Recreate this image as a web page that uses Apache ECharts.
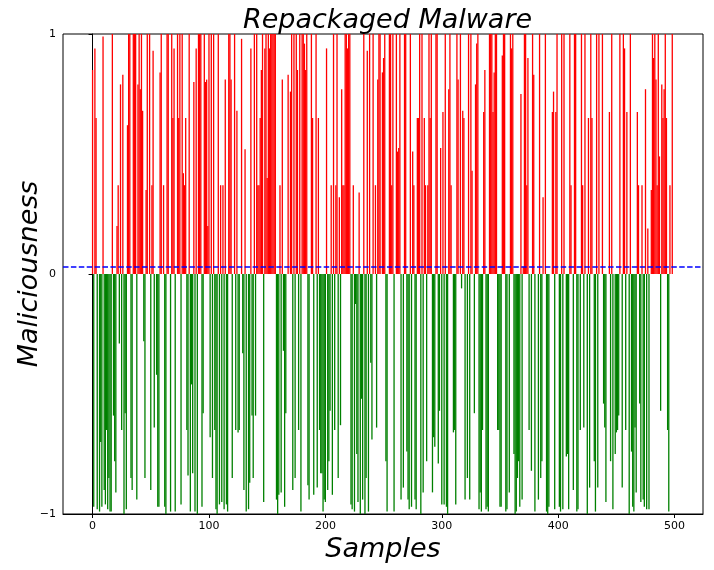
<!DOCTYPE html>
<html>
<head>
<meta charset="utf-8">
<title>Repackaged Malware</title>
<script src="https://cdn.jsdelivr.net/npm/echarts@6/dist/echarts.min.js"></script>
<style>
  html, body { margin: 0; padding: 0; background: #fff; }
  #chart { width: 714px; height: 570px; }
</style>
</head>
<body>
<div id="chart"></div>
<script>
// maliciousness score per sample (0 = no visible bar)
const samples0to99 = [
  .85, -.97, .94, .65, -.98, 0, -.99, -.70, -.97, .99,
  -.90, -.96, -.65, -.98, -.85, -.99, -.99, 1, -.59, -.78,
  -.91, .2, .37, -.29, .79, -.65, .83, -1, -.58, -.98,
  .62, 1, 1, -.85, -.90, 1, 1, 1, -.94, .79,
  1, .77, 1, .68, -.28, -.85, .35, 1, 0, 1,
  -.90, .37, .93, -.64, 0, -.42, -.97, -.97, .84, 1,
  0, .37, -.97, -1, 1, 1, 0, -.99, 1, .65,
  .94, -.99, 0, 1, .65, 1, -.96, 1, .42, .37,
  .65, -.65, -.84, 1, -.99, -.46, -.83, .80, -.99, .94,
  -1, 1, 1, 1, -.97, -.58, 1, .80, .81, .2
];
const samples100to199 = [
  1, -.68, 1, -.85, 1, -.65, -.98, -1, 1, -.96,
  .37, -.95, .37, -.98, .81, -.96, -.99, 1, 1, .81,
  -.85, 0, 1, -.65, .68, -.66, -.65, 0, .98, -.33,
  -.90, .52, -.99, 0, -.98, -.87, .94, -.59, -.85, 1,
  -.59, 1, .37, .37, .65, .85, 1, -.95, .94, 1,
  .40, 1, .94, 1, 1, 1, 1, 1, -.94, -1,
  -.92, .37, -.91, .81, -.32, -.97, -.58, 0, .83, 0,
  .76, 1, -.90, 1, -.85, 1, .85, -.65, 1, -.99,
  1, 1, .96, .85, 1, -.88, -.94, 0, 1, .65,
  -.92, 0, 1, -.89, .65, -.65, -.83, -.83, -.99, -.94
];
const samples200to299 = [
  -.95, .94, -.90, -.78, -.57, .37, -.92, 1, -.65, .37,
  1, -.85, .32, -.63, .77, .37, .37, 1, 1, .94,
  1, 1, -.96, -.98, .37, -.99, -.125, -.75, -.95, .34,
  -1, -.52, -.94, 1, -1, -.85, .93, -.99, 1, -.37,
  -.69, 1, 0, .37, -.64, .81, 1, 1, 0, .84,
  .90, 1, -.78, -.99, 0, 1, 1, .37, 1, -.99,
  0, 1, .51, .525, 1, -.94, 0, -.89, 1, 1,
  -.74, -.94, -.98, 1, -.97, .51, .37, -.94, -.98, .65,
  .65, 1, -1, 1, -.91, .65, .37, -.78, .37, 1,
  .65, 1, -.91, -.68, -.72, 1, 1, -.79, -.57, .525
];
const samples300to399 = [
  -.96, .675, -.96, 1, -.97, -1, .77, 1, .37, 0,
  -.66, -.65, -.96, 1, .81, 0, 1, -.06, .68, .65,
  -.94, 0, -.85, 1, -.94, 1, .43, 0, -.58, .79,
  .96, 1, -.98, -.91, -.99, -.65, .675, .85, -.98, -.97,
  -.99, 1, 1, 1, .675, .84, 1, 1, -.65, -.65,
  -.97, -.97, .91, 1, 1, -.99, -.98, 0, -.91, 1,
  .94, 1, -.75, -1, -.99, -.85, -.78, -.97, .75, -.94,
  .03, 1, 1, .37, .90, -.65, 0, -.82, 1, .83,
  -.99, 0, 0, -.94, 1, -.85, -.78, .32, 0, 1,
  -.99, -1, -.97, 0, 0, .675, .76, -.98, .675, 1
];
const samples400to499 = [
  0, -.97, -.99, 1, -.98, 1, 0, -.76, -.75, -.98,
  1, .37, 0, -.90, 1, 1, -.99, -.98, 0, -.65,
  1, .37, -.64, 1, 0, -1, .65, -.89, 1, .65,
  0, -.78, -.99, 1, -.89, 1, 0, 0, 1, -.54,
  -.64, -.95, 0, 0, .675, -.78, 1, -.98, 0, -.75,
  -.66, -.65, -.59, 1, 0, -.89, 1, .94, -.65, .675,
  0, -1, 1, -.74, -.97, -.99, -.64, -.91, .675, .37,
  -.54, -.95, .37, -.94, -.97, .77, -.98, .19, -.98, 0,
  .35, 1, .90, 1, .81, .37, 1, .49, -.57, .79,
  .65, .77, 1, .65, -.65, -.99, .37, 0, 1, 0
];

const threshold = 0.025;
const xTicks = [0, 100, 200, 300, 400, 500];
const yTicks = [-1, 0, 1];

const scores = [].concat(samples0to99, samples100to199, samples200to299,
  samples300to399, samples400to499);

// 一个样本一根柱子，正值红色，负值绿色
const barData = [];
scores.forEach((v, i) => {
  if (v !== 0) barData.push([i, v]);
});

const font = 'DejaVu Sans';
const chart = echarts.init(document.getElementById('chart'));

chart.setOption({
  animation: false,
  backgroundColor: '#fff',
  title: {
    text: 'Repackaged Malware',
    left: 382.5,
    top: 2,
    textAlign: 'center',
    textStyle: { fontFamily: font, fontSize: 27, fontStyle: 'italic', fontWeight: 'normal', color: '#000' }
  },
  grid: {
    left: 63, right: 11, top: 34, bottom: 56,
    outerBoundsMode: 'none',
    containLabel: false,
    show: true, borderColor: '#000', borderWidth: 1, backgroundColor: 'transparent'
  },
  xAxis: {
    type: 'value',
    min: -25.4,
    max: 524.4,
    name: 'Samples',
    nameLocation: 'middle',
    nameGap: 22,
    nameMoveOverlap: false,
    nameTextStyle: { fontFamily: font, fontSize: 27, fontStyle: 'italic', color: '#000' },
    splitLine: { show: false },
    axisLine: { onZero: false, lineStyle: { color: '#000', width: 1 } },
    axisTick: { show: true, length: 4, customValues: xTicks, lineStyle: { color: '#000' } },
    axisLabel: { customValues: xTicks, margin: 7, fontFamily: font, fontSize: 11, color: '#000' }
  },
  yAxis: {
    type: 'value',
    min: yTicks[0],
    max: yTicks[yTicks.length - 1],
    interval: 1,
    name: 'Maliciousness',
    nameLocation: 'middle',
    nameGap: 20,
    nameMoveOverlap: false,
    nameRotate: 90,
    nameTextStyle: { fontFamily: font, fontSize: 27, fontStyle: 'italic', color: '#000' },
    splitLine: { show: false },
    axisLine: { show: true, lineStyle: { color: '#000', width: 1 } },
    axisTick: { show: true, length: 4, lineStyle: { color: '#000' } },
    axisLabel: {
      margin: 7, fontFamily: font, fontSize: 11, color: '#000',
      formatter: v => String(v).replace('-', '\u2212')
    }
  },
  series: [{
    type: 'bar',
    data: barData,
    barWidth: 1.3,
    itemStyle: {
      color: p => (p.value[1] >= 0 ? '#ff0000' : '#008000')
    },
    markLine: {
      silent: true,
      symbol: 'none',
      label: { show: false },
      lineStyle: { color: '#0000ff', width: 1.6, type: [5.5, 2.4] },
      data: [{ yAxis: threshold }]
    }
  }]
});
</script>
</body>
</html>
